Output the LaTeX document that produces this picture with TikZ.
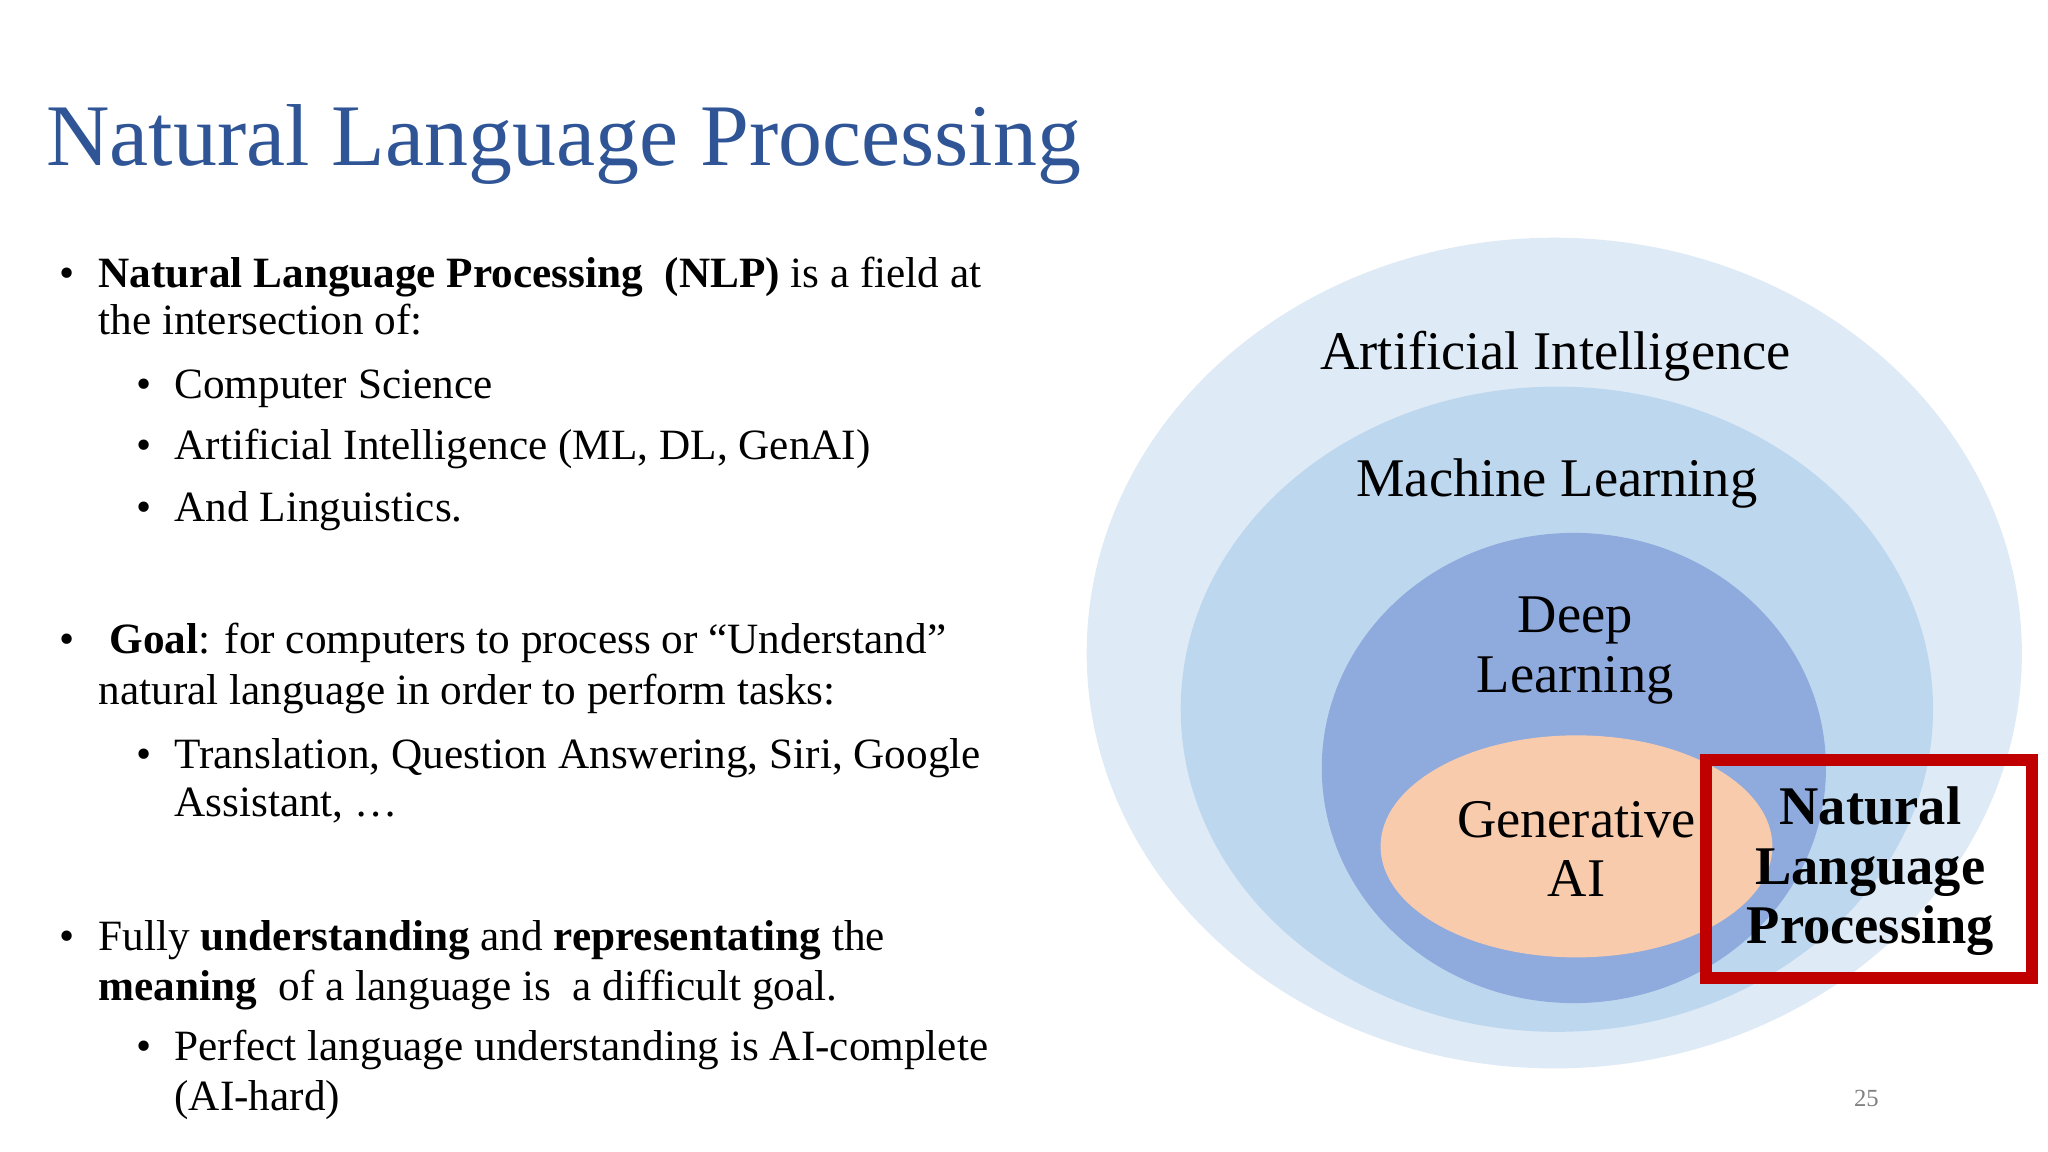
\documentclass[tikz,border=0pt]{standalone}
\usepackage{fontspec}
\setmainfont{Liberation Serif}
\definecolor{ttl}{HTML}{2F5597}
\definecolor{aic}{HTML}{DEEAF6}
\definecolor{mlc}{HTML}{BDD7EE}
\definecolor{dlc}{HTML}{8FAADC}
\definecolor{gac}{HTML}{F8CBAD}
\definecolor{redc}{HTML}{C00000}
\tikzset{
 body/.style={anchor=base west,inner sep=0pt,font=\fontsize{12.3}{14}\selectfont},
 dia/.style={anchor=center,inner sep=0pt,font=\fontsize{15.5}{18}\selectfont,align=center},
}
\begin{document}
\begin{tikzpicture}[x=0.01306cm,y=-0.01306cm]
\useasboundingbox[fill=white] (0,0) rectangle (1568,882);
\node[anchor=base west,inner sep=0pt,text=ttl,font=\fontsize{25}{30}\selectfont] (title) at (35,127) {Natural Language Processing};
% bullets
\node[body] (b1a) at (45,220) {•};
\node[body] (t1a) at (75,220) {\textbf{Natural Language Processing}\ \ \textbf{(NLP)} is a field at};
\node[body] (t1b) at (75,256) {the intersection of:};
\node[body] (s1) at (104,305) {•}; \node[body] (u1) at (133,305) {Computer Science};
\node[body] (s2) at (104,352) {•}; \node[body] (u2) at (133,352) {Artificial Intelligence (ML, DL, GenAI)};
\node[body] (s3) at (104,399) {•}; \node[body] (u3) at (133,399) {And Linguistics.};
\node[body] (b2) at (45,500) {•};
\node[body] (t2a) at (75,500) {\ \textbf{Goal}: for computers to process or “Understand”};
\node[body] (t2b) at (75,539) {natural language in order to perform tasks:};
\node[body] (s4) at (104,588) {•}; \node[body] (u4) at (133,588) {Translation, Question Answering, Siri, Google};
\node[body] (u4b) at (133,625) {Assistant, …};
\node[body] (b3) at (45,728) {•};
\node[body] (t3a) at (75,728) {Fully \textbf{understanding} and \textbf{representating} the};
\node[body] (t3b) at (75,766) {\textbf{meaning}\ \ of a language is\ \ a difficult goal.};
\node[body] (s5) at (104,812) {•}; \node[body] (u5) at (133,812) {Perfect language understanding is AI-complete};
\node[body] (u5b) at (133,850) {(AI-hard)};
% diagram
\fill[aic] (1190,500) ellipse [x radius=358, y radius=318];
\fill[mlc] (1192,543) ellipse [x radius=288, y radius=247];
\fill[dlc] (1205,588) ellipse [x radius=193, y radius=180];
\fill[gac] (1207,648) ellipse [x radius=150, y radius=85];
\node[dia] (ai) at (1191,273) {Artificial Intelligence};
\node[dia] (ml) at (1192,370) {Machine Learning};
\node[dia] (dl) at (1206,498) {Deep\\[-1pt]Learning};
\node[dia] (ga) at (1207,650) {Generative\\[-1pt]AI};
\node[dia,font=\fontsize{15.5}{18}\selectfont\bfseries] (nlp) at (1432,667) {Natural\\[-1pt]Language\\[-1pt]Processing};
\draw[redc,line width=3.5pt] (1306,582) rectangle (1556,749);
\node[anchor=center,text=gray,font=\fontsize{7}{8}\selectfont] (pg) at (1429,841) {25};
\end{tikzpicture}
\end{document}
